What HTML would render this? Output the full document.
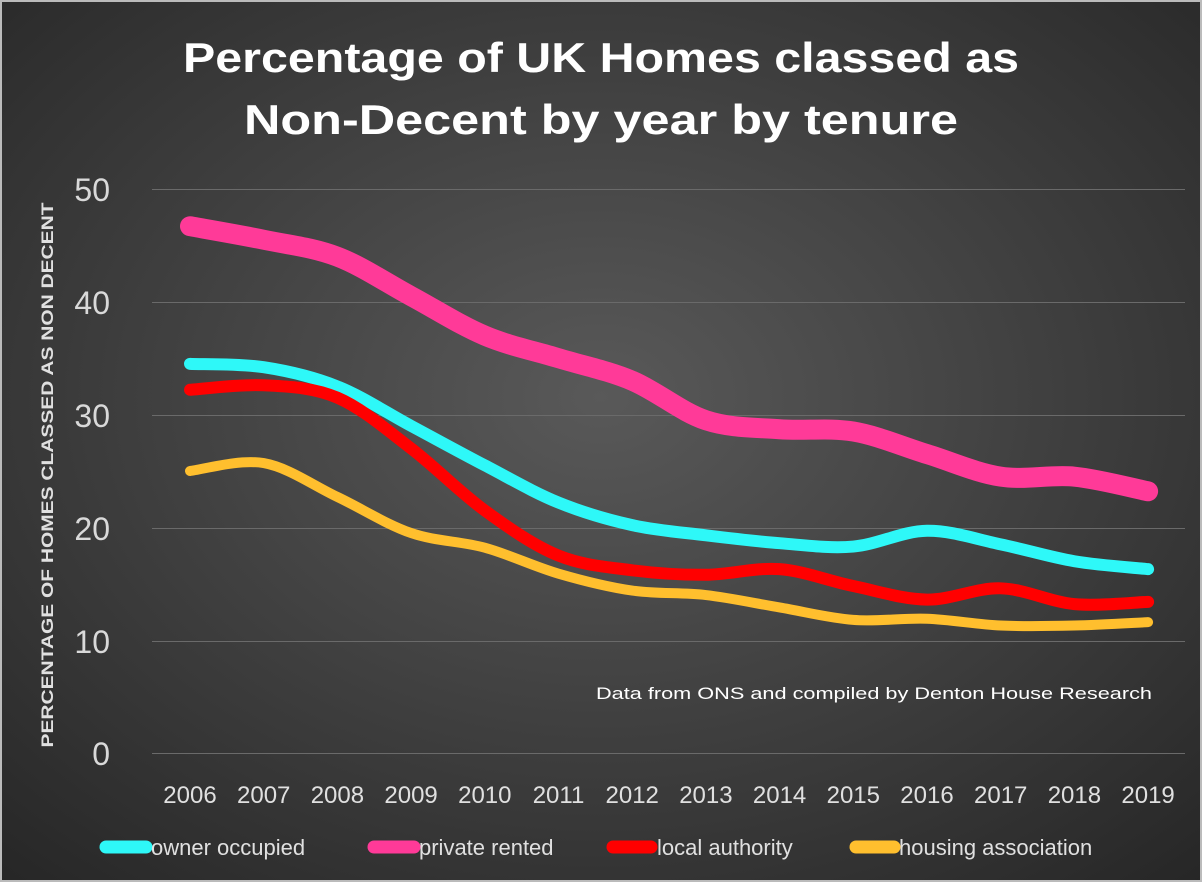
<!DOCTYPE html>
<html><head><meta charset="utf-8"><style>
html,body{margin:0;padding:0;background:#fff}
svg{display:block}
text{font-family:"Liberation Sans",sans-serif}
</style></head><body>
<svg id="s" width="1202" height="882" viewBox="0 0 1202 882" xmlns="http://www.w3.org/2000/svg">
<defs>
<radialGradient id="bg" cx="0.5" cy="0.45" r="0.75">
<stop offset="0" stop-color="#595959"/>
<stop offset="1" stop-color="#262626"/>
</radialGradient>
</defs>
<rect x="0" y="0" width="1202" height="882" fill="#bbb"/>
<rect x="2" y="2" width="1198" height="878" fill="url(#bg)"/>
<text x="601" y="72" fill="#fff" font-size="42" font-weight="bold" text-anchor="middle" textLength="836" lengthAdjust="spacingAndGlyphs">Percentage of UK Homes classed as</text>
<text x="601" y="134" fill="#fff" font-size="42" font-weight="bold" text-anchor="middle" textLength="714" lengthAdjust="spacingAndGlyphs">Non-Decent by year by tenure</text>
<g stroke="#6a6a6a" stroke-width="1">
<line x1="152" x2="1185" y1="189.5" y2="189.5"/><line x1="152" x2="1185" y1="302.5" y2="302.5"/>
<line x1="152" x2="1185" y1="415.5" y2="415.5"/><line x1="152" x2="1185" y1="528.5" y2="528.5"/>
<line x1="152" x2="1185" y1="641.5" y2="641.5"/><line x1="152" x2="1185" y1="753.5" y2="753.5"/>
</g>
<g fill="#d9d9d9" font-size="32" text-anchor="end">
<text x="110" y="201">50</text><text x="110" y="314">40</text><text x="110" y="427">30</text>
<text x="110" y="540">20</text><text x="110" y="653">10</text><text x="110" y="765">0</text>
</g>
<text transform="translate(53,475) rotate(-90)" fill="#e0e0e0" font-size="17" font-weight="bold" text-anchor="middle" textLength="545" lengthAdjust="spacingAndGlyphs">PERCENTAGE OF HOMES  CLASSED AS NON DECENT</text>
<g id="xl" fill="#e0e0e0" font-size="24" text-anchor="middle"></g>
<g id="lines" fill="none" stroke-linecap="round" stroke-linejoin="round"></g>
<text x="1152" y="699" fill="#fff" font-size="17" text-anchor="end" textLength="556" lengthAdjust="spacingAndGlyphs">Data from ONS and compiled by Denton House Research</text>
<g stroke-linecap="round" stroke-width="13">
<line x1="106" x2="146" y1="847" y2="847" stroke="#2ef8f8"/>
<line x1="374" x2="414" y1="847" y2="847" stroke="#ff3a98"/>
<line x1="613" x2="651" y1="847" y2="847" stroke="#ff0000"/>
<line x1="856" x2="894" y1="847" y2="847" stroke="#ffbf2e"/>
</g>
<g fill="#e0e0e0" font-size="22">
<text x="151" y="855">owner occupied</text>
<text x="419" y="855">private rented</text>
<text x="657" y="855">local authority</text>
<text x="899" y="855">housing association</text>
</g>
</svg>
<script>
var X=function(i){return 190+i*73.7},Y=function(v){return 753-v*11.28};
var xl=document.getElementById('xl'),ns="http://www.w3.org/2000/svg";
for(var i=0;i<14;i++){var t=document.createElementNS(ns,'text');t.setAttribute('x',X(i));t.setAttribute('y',803);t.textContent=2006+i;xl.appendChild(t);}
var S=[
["#ff3a98",20,[46.7,45.5,44,40.5,37,35,33,29.5,28.7,28.5,26.5,24.5,24.5,23.2]],
["#2ef8f8",12,[34.5,34.2,32.5,29,25.5,22.2,20.2,19.3,18.6,18.3,19.7,18.5,17,16.3]],
["#ff0000",12,[32.2,32.6,31.5,27,21.5,17.5,16.2,15.8,16.3,14.8,13.6,14.6,13.2,13.4]],
["#ffbf2e",10,[25,25.7,22.7,19.5,18.2,15.9,14.4,14,12.9,11.8,11.9,11.3,11.3,11.6]]];
var g=document.getElementById('lines');
S.forEach(function(s){var p=s[2].map(function(v,i){return [X(i),Y(v)]});
var d="M"+p[0][0]+","+p[0][1];
for(var i=0;i<p.length-1;i++){var p0=p[Math.max(i-1,0)],p1=p[i],p2=p[i+1],p3=p[Math.min(i+2,p.length-1)];
d+=" C"+(p1[0]+(p2[0]-p0[0])/6)+","+(p1[1]+(p2[1]-p0[1])/6)+" "+(p2[0]-(p3[0]-p1[0])/6)+","+(p2[1]-(p3[1]-p1[1])/6)+" "+p2[0]+","+p2[1];}
var e=document.createElementNS(ns,'path');e.setAttribute('d',d);e.setAttribute('stroke',s[0]);e.setAttribute('stroke-width',s[1]);g.appendChild(e);});
</script>
</body></html>
